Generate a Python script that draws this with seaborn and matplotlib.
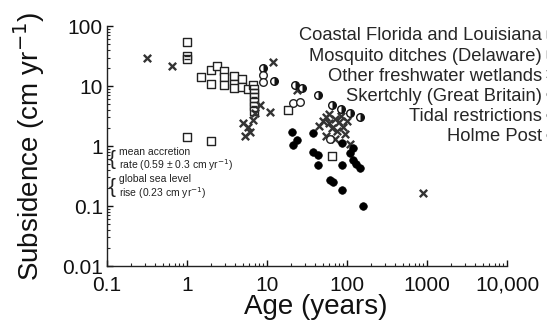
import matplotlib
matplotlib.use("Agg")
import matplotlib.pyplot as plt
from matplotlib.lines import Line2D
from matplotlib.markers import MarkerStyle
import seaborn as sns
import pandas as pd

# ---- data ----
coastal_age = [1.0, 1.5, 2.0, 2.0, 2.4, 2.9, 2.9, 2.9, 3.9, 3.9, 3.9, 4.9, 4.9, 5.8, 6.7, 1.0, 2.0, 18.3, 65]
coastal_rate = [54, 14, 11, 18.6, 22, 17.8, 14, 10.4, 15, 11, 9.3, 13, 9.6, 8.9, 10.4, 1.4, 1.2, 4.0, 0.68]

mosquito_age = [1.0, 1.0, 6.9, 6.9, 6.9, 6.9, 6.9, 6.9]
mosquito_rate = [32, 28, 9.0, 7.8, 6.6, 5.5, 4.6, 3.9]

fresh_age = [0.32, 0.65, 11.9, 10.9, 8.2, 7.1, 6.7, 5.0, 5.8, 6.1, 5.3, 24,
             45, 50, 55, 60, 65, 70, 75, 80, 85, 90, 95, 100, 55, 70, 110, 60, 890]
fresh_rate = [30, 22, 25, 3.7, 4.8, 3.5, 2.7, 2.4, 2.1, 1.7, 1.5, 8.5,
              2.2, 2.6, 3.0, 2.4, 2.0, 2.8, 1.8, 2.5, 3.2, 2.1, 1.6, 2.6, 1.5, 1.3, 1.1, 3.4, 0.165]

skertchly_age = [12.2, 22.3, 27, 43, 65, 84, 109, 145, 8.9]
skertchly_rate = [12, 10.4, 9.3, 7.1, 4.8, 4.1, 3.5, 3.0, 20]

tidal_age = [20.5, 24, 21, 37.5, 37.5, 43, 43, 87, 119, 119, 145, 87, 61, 67, 87, 158, 108, 130]
tidal_rate = [1.7, 1.26, 1.04, 1.65, 0.79, 0.71, 0.48, 1.12, 0.93, 0.58, 0.43, 0.48, 0.27, 0.25, 0.185, 0.10, 0.77, 0.5]

holme_age = [8.9, 8.9, 21, 26, 62]
holme_rate = [15.5, 11.7, 5.2, 5.4, 1.3]

series_names = ["Coastal Florida and Louisiana", "Mosquito ditches (Delaware)",
                "Other freshwater wetlands", "Skertchly (Great Britain)",
                "Tidal restrictions", "Holme Post"]

x_ticks = [0.1, 1, 10, 100, 1000, 10000]
x_labels = ["0.1", "1", "10", "100", "1000", "10,000"]
y_ticks = [0.01, 0.1, 1, 10, 100]
y_labels = ["0.01", "0.1", "1", "10", "100"]

# ---- style ----
sns.set_style("ticks")
plt.rcParams["font.family"] = ["Liberation Sans", "DejaVu Sans"]

fig = plt.figure(figsize=(5.47, 3.27), dpi=100)
ax = fig.add_axes([0.1956, 0.1865, 0.7313, 0.7335])

def df(a, r):
    return pd.DataFrame({"age": a, "rate": r})

ms = 30
sns.scatterplot(data=df(coastal_age, coastal_rate), x="age", y="rate", ax=ax,
                marker="s", s=ms, facecolor="white", edgecolor="#222222", linewidth=1.0, zorder=3)
sns.scatterplot(data=df(mosquito_age, mosquito_rate), x="age", y="rate", ax=ax,
                marker="s", s=ms, facecolor="white", edgecolor="#222222", linewidth=1.0, zorder=3)
sns.scatterplot(data=df(mosquito_age, mosquito_rate), x="age", y="rate", ax=ax,
                marker="_", s=14, color="#222222", linewidth=1.0, zorder=4)
sns.scatterplot(data=df(fresh_age, fresh_rate), x="age", y="rate", ax=ax,
                marker="x", s=28, color="#333333", linewidth=1.7, zorder=3)
sns.scatterplot(data=df(skertchly_age, skertchly_rate), x="age", y="rate", ax=ax,
                marker="o", s=ms, facecolor="white", edgecolor="#111111", linewidth=1.0, zorder=3)
sns.scatterplot(data=df(skertchly_age, skertchly_rate), x="age", y="rate", ax=ax,
                marker=MarkerStyle("o", fillstyle="right"), s=ms, color="#111111",
                edgecolor="#111111", linewidth=0, zorder=4)
sns.scatterplot(data=df(tidal_age, tidal_rate), x="age", y="rate", ax=ax,
                marker="o", s=ms, color="black", edgecolor="black", linewidth=0.5, zorder=3)
sns.scatterplot(data=df(holme_age, holme_rate), x="age", y="rate", ax=ax,
                marker="o", s=ms, facecolor="white", edgecolor="#222222", linewidth=1.0, zorder=3)

ax.set_xscale("log")
ax.set_yscale("log")
ax.set_xlim(0.1, 10000)
ax.set_ylim(0.01, 100)
ax.set_xticks(x_ticks, x_labels)
ax.set_yticks(y_ticks, y_labels)
ax.tick_params(axis="both", which="major", direction="in", length=4, width=1,
               labelsize=15, colors="#111111")
ax.tick_params(axis="x", which="major", pad=7)
ax.tick_params(axis="y", which="major", pad=3)
ax.tick_params(axis="both", which="minor", direction="in", length=2, width=0.8)
sns.despine(ax=ax)
for sp in ["left", "bottom"]:
    ax.spines[sp].set_color("#222222")
    ax.spines[sp].set_linewidth(1.0)

ax.set_xlabel("Age (years)", fontsize=20, color="#111111")
ax.xaxis.set_label_coords(0.5225, -0.118)
ax.set_ylabel("Subsidence (cm yr$^{-1}$)", fontsize=20, labelpad=11, color="#111111")

# annotations with braces
ax.text(0.104, 0.59, "{", fontsize=15, va="center", ha="left", color="#222222")
ax.text(0.142, 0.59, "mean accretion\nrate (0.59 \u00b1 0.3 cm yr$^{-1}$)", fontsize=7.5,
        va="center", ha="left", color="#222222", linespacing=1.05)
ax.text(0.104, 0.205, "{", fontsize=15, va="center", ha="left", color="#222222")
ax.text(0.142, 0.205, "global sea level\nrise (0.23 cm yr$^{-1}$)", fontsize=7.5,
        va="center", ha="left", color="#222222", linespacing=1.05)

# legend (markers after labels, partly cut off by the figure edge)
handles = [
    Line2D([], [], ls="none", marker="s", mfc="white", mec="#222222", ms=6),
    Line2D([], [], ls="none", marker="s", mfc="white", mec="#222222", ms=6),
    Line2D([], [], ls="none", marker="x", color="#333333", mew=1.5, ms=6),
    Line2D([], [], ls="none", marker="o", fillstyle="right", color="#111111",
           markerfacecoloralt="white", ms=6),
    Line2D([], [], ls="none", marker="o", color="black", ms=6),
    Line2D([], [], ls="none", marker="o", mfc="white", mec="#222222", ms=6),
]
fig.legend(handles, series_names, loc="upper right", bbox_to_anchor=(1.018, 0.916),
           markerfirst=False, frameon=False, fontsize=13.2, handlelength=0.6,
           handletextpad=0.2, labelspacing=0.17, borderpad=0, borderaxespad=0,
           alignment="right")

fig.savefig("out.png", dpi=100)
